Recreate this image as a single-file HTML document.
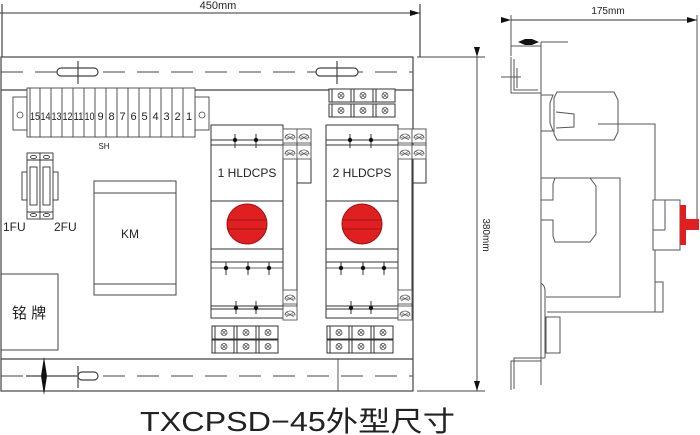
<!DOCTYPE html>
<html><head><meta charset="utf-8"><style>
html,body{margin:0;padding:0;background:#fff;width:700px;height:435px;overflow:hidden}
svg{display:block}
text{font-family:"Liberation Sans","Noto Sans CJK SC",sans-serif;fill:#222}
</style></head><body>
<svg width="700" height="435" viewBox="0 0 700 435" xmlns="http://www.w3.org/2000/svg">
<defs>
<marker id="ar" viewBox="0 0 10 6" refX="10" refY="3" markerWidth="16" markerHeight="6" markerUnits="userSpaceOnUse" orient="auto"><path d="M0,0L10,3L0,6z" fill="#111"/></marker>
<g id="tb"><rect x="0" y="0" width="22" height="13" fill="#fff" stroke="#333"/><line x1="3" y1="0" x2="3" y2="13" stroke="#333"/><circle cx="12" cy="6.5" r="3" fill="none" stroke="#444" stroke-width="0.8"/><path d="M10,4.5l4,4M14,4.5l-4,4" stroke="#444" stroke-width="0.7"/></g>
<g id="sc"><rect x="0" y="0" width="14" height="14" fill="#fff" stroke="#555" stroke-width="0.9"/><path d="M2,9a5,4 0 0 1 10,0z" fill="none" stroke="#555" stroke-width="0.8"/><path d="M3,6l8,5M11,6l-8,5" stroke="#555" stroke-width="0.7"/></g>
</defs>
<g fill="none" stroke="#444" stroke-width="1.2">
<line x1="2" y1="4" x2="2" y2="57"/>
<line x1="420" y1="4" x2="420" y2="57"/>
<line x1="2" y1="13" x2="420" y2="13" marker-start="url(#ar)" marker-end="url(#ar)" stroke="#333" stroke-width="0.9"/>
<rect x="1" y="57" width="412" height="334"/>
<line x1="1" y1="90" x2="413" y2="90"/>
<line x1="1" y1="359" x2="413" y2="359"/>
<line x1="338" y1="359" x2="338" y2="391" stroke-width="0.9"/>
<line x1="1" y1="72" x2="413" y2="72" stroke-dasharray="22,12" stroke-width="0.9"/>
<line x1="1" y1="376" x2="413" y2="376" stroke-dasharray="22,12" stroke-width="0.9"/>
<rect x="57" y="68" width="41" height="8" rx="4" fill="#fff"/>
<rect x="316" y="68" width="42" height="8" rx="4" fill="#fff"/>
<line x1="78" y1="61" x2="78" y2="84"/><line x1="337" y1="61" x2="337" y2="84"/>
<rect x="78" y="372" width="20" height="8" rx="4" fill="#fff"/>
<line x1="78" y1="366" x2="78" y2="388"/>
<line x1="26" y1="376" x2="78" y2="376"/>
<line x1="417" y1="57" x2="485" y2="57" stroke-width="0.9"/>
<line x1="417" y1="391" x2="485" y2="391" stroke-width="0.9"/>
<line x1="477" y1="57" x2="477" y2="391" stroke="#333" stroke-width="0.9" marker-start="url(#ar)" marker-end="url(#ar)"/>
</g>
<path d="M44,357L47,376L44,395L41,376z" fill="#111"/>
<text x="218" y="9" font-size="11" text-anchor="middle">450mm</text>
<text transform="translate(483,235) rotate(90)" font-size="10" text-anchor="middle">380mm</text>

<g stroke="#444" fill="#fff" stroke-width="0.9">
<rect x="13" y="97" width="14" height="33"/><rect x="195" y="97" width="14" height="33"/>
<rect x="27" y="88" width="168" height="49"/>
<path d="M30,88v49M40,88v49M51,88v49M62,88v49M73,88v49M84,88v49M95,88v49M106,88v49M117,88v49M128,88v49M139,88v49M150,88v49M161,88v49M172,88v49M183,88v49"/>
</g>
<g font-size="11" text-anchor="middle">
<text x="35" y="120" textLength="10" lengthAdjust="spacingAndGlyphs">15</text><text x="45.5" y="120" textLength="10" lengthAdjust="spacingAndGlyphs">14</text><text x="56.5" y="120" textLength="10" lengthAdjust="spacingAndGlyphs">13</text><text x="67.5" y="120" textLength="10" lengthAdjust="spacingAndGlyphs">12</text><text x="78.5" y="120" textLength="10" lengthAdjust="spacingAndGlyphs">11</text><text x="89.5" y="120" textLength="10" lengthAdjust="spacingAndGlyphs">10</text><text x="100.5" y="120">9</text><text x="111.5" y="120">8</text><text x="122.5" y="120">7</text><text x="133.5" y="120">6</text><text x="144.5" y="120">5</text><text x="155.5" y="120">4</text><text x="166.5" y="120">3</text><text x="177.5" y="120">2</text><text x="189" y="120">1</text>
</g>
<g fill="none" stroke="#444" stroke-width="0.8"><circle cx="20" cy="115" r="3"/><circle cx="202" cy="115" r="3"/></g>
<text x="104" y="149" font-size="8" text-anchor="middle">SH</text>

<use href="#tb" x="329" y="89"/><use href="#tb" x="351" y="89"/><use href="#tb" x="373" y="89"/>
<use href="#tb" x="329" y="104"/><use href="#tb" x="351" y="104"/><use href="#tb" x="373" y="104"/>
<use href="#tb" x="212" y="326"/><use href="#tb" x="234" y="326"/><use href="#tb" x="256" y="326"/>
<use href="#tb" x="212" y="340"/><use href="#tb" x="234" y="340"/><use href="#tb" x="256" y="340"/>
<use href="#tb" x="327" y="326"/><use href="#tb" x="349" y="326"/><use href="#tb" x="371" y="326"/>
<use href="#tb" x="327" y="340"/><use href="#tb" x="349" y="340"/><use href="#tb" x="371" y="340"/>

<g id="unit">
<g fill="none" stroke="#333" stroke-width="1">
<rect x="211" y="125" width="72" height="193" fill="#fff"/>
<line x1="211" y1="140" x2="283" y2="140"/><line x1="211" y1="145" x2="283" y2="145"/>
<line x1="211" y1="201" x2="283" y2="201"/>
<line x1="211" y1="249" x2="283" y2="249"/><line x1="211" y1="262" x2="283" y2="262"/>
<line x1="211" y1="268" x2="283" y2="268" stroke-width="0.7"/>
<line x1="211" y1="306" x2="283" y2="306"/><line x1="211" y1="309" x2="283" y2="309"/>
<rect x="283" y="129" width="14" height="189"/>
<rect x="297" y="129" width="14" height="54"/>
<line x1="235" y1="134" x2="235" y2="148"/><line x1="256" y1="134" x2="256" y2="148"/>
<line x1="226" y1="262" x2="226" y2="275"/><line x1="248" y1="262" x2="248" y2="275"/><line x1="269" y1="262" x2="269" y2="275"/>
<line x1="236" y1="301" x2="236" y2="314"/><line x1="256" y1="301" x2="256" y2="314"/>
</g>
<g fill="#111"><circle cx="235" cy="140" r="2.2"/><circle cx="256" cy="140" r="2.2"/><circle cx="226" cy="268" r="2.2"/><circle cx="248" cy="268" r="2.2"/><circle cx="269" cy="268" r="2.2"/><circle cx="236" cy="308" r="2.2"/><circle cx="256" cy="308" r="2.2"/></g>
<use href="#sc" x="283" y="129"/><use href="#sc" x="297" y="129"/><use href="#sc" x="283" y="145"/><use href="#sc" x="297" y="145"/>
<use href="#sc" x="283" y="290"/><use href="#sc" x="283" y="306"/>
<circle cx="247" cy="224" r="20" fill="#e02020" stroke="#a01010"/>
<line x1="227" y1="220" x2="267" y2="220" stroke="#8a1010" stroke-width="0.8"/>
<line x1="227" y1="229" x2="267" y2="229" stroke="#8a1010" stroke-width="0.8"/>
</g>
<use href="#unit" x="115" y="0"/>
<text x="247" y="177" font-size="12" text-anchor="middle">1 HLDCPS</text>
<text x="362" y="177" font-size="12" text-anchor="middle">2 HLDCPS</text>

<g fill="#fff" stroke="#333" stroke-width="0.9">
<rect x="22" y="172" width="6" height="28"/><rect x="52" y="172" width="6" height="28"/>
<rect x="27" y="153" width="13" height="66"/><rect x="40" y="153" width="13" height="66"/>
<path d="M27,160h26M27,212h26"/>
<rect x="30" y="167" width="7" height="38"/><rect x="43" y="167" width="7" height="38"/>
<ellipse cx="33.5" cy="157" rx="3" ry="1.6"/><ellipse cx="46.5" cy="157" rx="3" ry="1.6"/>
<ellipse cx="33.5" cy="215" rx="3" ry="1.6"/><ellipse cx="46.5" cy="215" rx="3" ry="1.6"/>
</g>
<text x="3" y="231" font-size="12">1FU</text>
<text x="54" y="231" font-size="12">2FU</text>

<g fill="none" stroke="#444" stroke-width="1">
<rect x="94" y="181" width="82" height="114"/>
<line x1="94" y1="193" x2="176" y2="193"/><line x1="94" y1="284" x2="176" y2="284"/>
<rect x="1" y="274" width="57" height="76"/>
</g>
<text x="130" y="238" font-size="12" text-anchor="middle">KM</text>
<text x="29" y="318" font-size="15" text-anchor="middle">铭 牌</text>

<g fill="none" stroke="#555" stroke-width="1">
<line x1="511" y1="15" x2="511" y2="56"/><line x1="697" y1="15" x2="697" y2="222"/>
<line x1="511" y1="20" x2="697" y2="20" stroke="#333" stroke-width="0.9" marker-start="url(#ar)" marker-end="url(#ar)"/>
<line x1="541" y1="42" x2="568" y2="42"/><line x1="541" y1="42" x2="541" y2="90"/>
<line x1="511" y1="46" x2="541" y2="46"/>
<path d="M511,57V93H541"/><path d="M514,59V90H538"/>
<line x1="501" y1="77" x2="521" y2="77"/><line x1="517" y1="68" x2="517" y2="88"/>
<line x1="541" y1="90" x2="541" y2="385"/>
<path d="M541,283Q545,286 545,290V358"/>
<path d="M545,358H514V389"/><path d="M541,361H511V390"/>
<path d="M541,95h12l-3,8v20l3,8h-12z"/>
<path d="M557,92h57l4,8v32l-4,8h-57l-3,-6v-36z"/>
<path d="M556,112l18,2v13l-18,1"/>
<path d="M598,124H655V200"/>
<path d="M555,178h35l6,8v48l-6,8h-35l-2,-6v-16h-12v-20h12v-16z"/>
<path d="M541,178h79v119h-74"/>
<path d="M547,312H655"/>
<rect x="655" y="282" width="8" height="30"/>
<rect x="546" y="317" width="14" height="36"/>
<rect x="653" y="200" width="27" height="50" fill="#fff"/>
<line x1="665" y1="200" x2="665" y2="230"/><line x1="653" y1="230" x2="665" y2="230"/>
<line x1="655" y1="250" x2="655" y2="282"/>
</g>
<path d="M518,42l7,-3h7l7,3l-7,3h-7z" fill="#111"/>
<rect x="680" y="205" width="6" height="40" fill="#e02020"/>
<rect x="686" y="219" width="13" height="11" fill="#e02020"/>
<text x="608" y="14" font-size="10" text-anchor="middle">175mm</text>

<text x="140" y="431" font-size="28" textLength="315" lengthAdjust="spacingAndGlyphs">TXCPSD−45外型尺寸</text>
</svg>
</body></html>
